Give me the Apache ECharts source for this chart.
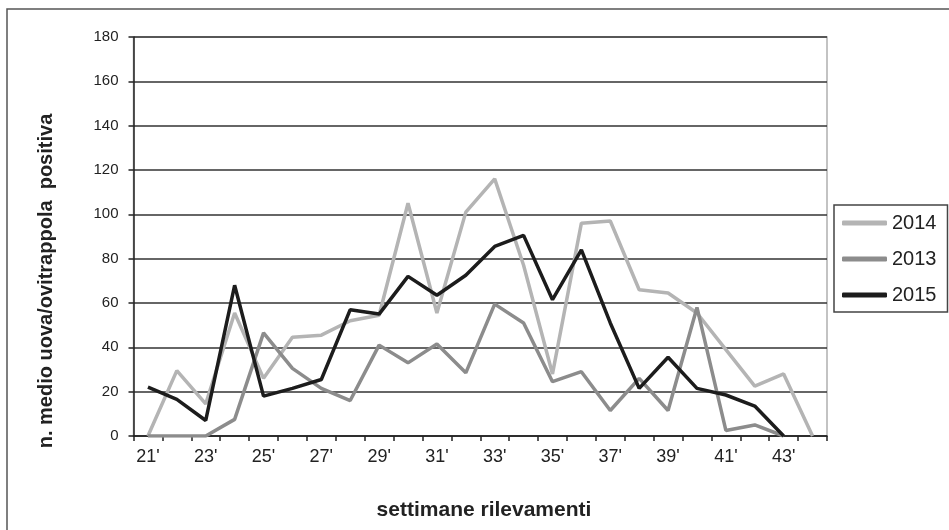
<!DOCTYPE html>
<html>
<head>
<meta charset="utf-8">
<script src="https://cdn.jsdelivr.net/npm/echarts@6/dist/echarts.min.js"></script>
<style>
  html, body { margin: 0; padding: 0; background: #fff; }
  #chart { width: 949px; height: 530px; }
</style>
</head>
<body>
<div id="chart"></div>
<script>
// settimane 21' .. 44'
const weeks = ["21'", "22'", "23'", "24'", "25'", "26'", "27'", "28'", "29'", "30'", "31'", "32'",
  "33'", "34'", "35'", "36'", "37'", "38'", "39'", "40'", "41'", "42'", "43'", "44'"];

const data2014 = [0, 29.5, 14.5, 55.5, 26, 44.5, 45.5, 52, 54.5, 105, 55.5, 101,
  116, 77, 28, 96, 97, 66, 64.5, 55.5, 39, 22.5, 28, 0];
const data2013 = [0, 0, 0, 7.5, 46.5, 30.5, 21.5, 16, 41, 33, 41.5, 28.5,
  59.5, 51, 24.5, 29, 11.5, 26, 11.5, 58, 2.5, 5, 0, null];
const data2015 = [22, 16.5, 7, 68, 18, 21.5, 25.5, 57, 55, 72, 63.5, 72.5,
  85.5, 90.5, 61.5, 84, 51, 21.5, 35.5, 21.5, 18.5, 13.5, 0, null];

const yTicks = { min: 0, max: 180, step: 20 };

const chart = echarts.init(document.getElementById('chart'));

const lineSeries = (name, data, color) => ({
  name: name,
  type: 'line',
  data: data,
  symbol: 'none',
  connectNulls: false,
  lineStyle: { color: color, width: 3.5 },
  itemStyle: { color: color },
  animation: false
});

const option = {
  backgroundColor: '#fff',
  textStyle: { fontFamily: 'Liberation Sans, Arial, sans-serif' },
  grid: {
    left: 133.5, right: 122, top: 37, bottom: 94,
    show: true, borderColor: '#b0b0b0', borderWidth: 1.5
  },
  xAxis: {
    type: 'category',
    data: weeks,
    boundaryGap: true,
    axisLine: { lineStyle: { color: '#222', width: 1.5 } },
    axisTick: { show: true, interval: 0, length: 5, lineStyle: { color: '#222', width: 1.5 } },
    axisLabel: {
      interval: 1, margin: 12, color: '#222', fontSize: 18,
      fontFamily: 'Liberation Sans Narrow, Arial Narrow, Liberation Sans, sans-serif'
    },
    splitLine: { show: false }
  },
  yAxis: {
    type: 'value',
    min: yTicks.min, max: yTicks.max, interval: yTicks.step,
    axisLine: { show: true, lineStyle: { color: '#222', width: 1.5 } },
    axisTick: { show: true, length: 5, lineStyle: { color: '#222', width: 1.5 } },
    axisLabel: { margin: 15, color: '#222', fontSize: 15 },
    splitLine: { show: true, lineStyle: { color: '#333', width: 1.5 } }
  },
  legend: {
    orient: 'vertical',
    left: 834, top: 205,
    padding: [8, 11, 7, 8],
    itemGap: 16,
    itemWidth: 45, itemHeight: 5,
    icon: 'roundRect',
    borderColor: '#444', borderWidth: 1.5,
    textStyle: { fontSize: 20, color: '#222' },
    data: ['2014', '2013', '2015']
  },
  graphic: [
    {
      type: 'text', x: 46, y: 281, rotation: Math.PI / 2,
      style: {
        text: 'n. medio uova/ovitrappola  positiva',
        font: 'bold 20px Liberation Sans, Arial, sans-serif',
        fill: '#222', align: 'center', verticalAlign: 'middle'
      }
    },
    {
      type: 'text', x: 484, y: 510,
      style: {
        text: 'settimane rilevamenti',
        font: 'bold 21px Liberation Sans, Arial, sans-serif',
        fill: '#222', align: 'center', verticalAlign: 'middle'
      }
    },
    {
      type: 'polyline',
      shape: { points: [[7, 530], [7, 9], [949, 9]] },
      style: { stroke: '#555', lineWidth: 1.5, fill: null }
    }
  ],
  series: [
    lineSeries('2014', data2014, '#b4b4b4'),
    lineSeries('2013', data2013, '#8c8c8c'),
    lineSeries('2015', data2015, '#1c1c1c')
  ]
};

chart.setOption(option);
</script>
</body>
</html>
